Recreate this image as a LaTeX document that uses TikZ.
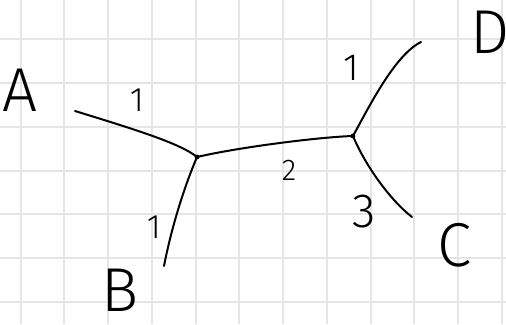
\documentclass[tikz,border=0pt]{standalone}
\usepackage{fontspec}
\newfontfamily\handfont{Fira Sans Light}
\usetikzlibrary{positioning}
\definecolor{gridgray}{RGB}{229,229,229}

\begin{document}
\begin{tikzpicture}[x=1pt, y=-1pt,
        edge/.style={line width=2pt, line cap=round},
        leaf/.style={font=\handfont\fontsize{62}{62}\selectfont, inner sep=0pt},
        weight/.style={font=\handfont\fontsize{34}{34}\selectfont, inner sep=0pt}]
    \useasboundingbox (0,0) rectangle (506,324);
    \clip (0,0) rectangle (506,324);
    \fill[white] (0,0) rectangle (506,324);
    % grid paper
    \foreach \i in {0,...,11}
        \draw[gridgray, line width=2pt] ({20.7+43.75*\i},0) -- ({20.7+43.75*\i},324);
    \foreach \j in {0,...,6}
        \draw[gridgray, line width=2pt] (0,{39.3+43.75*\j}) -- (506,{39.3+43.75*\j});
    % inner vertices and free ends
    \coordinate (u) at (197,157);
    \coordinate (v) at (353,136);
    \coordinate (endA) at (75,111);
    \coordinate (endB) at (164,266);
    \coordinate (endC) at (412,217);
    \coordinate (endD) at (421,42);
    % branches
    \draw[edge] (endA) .. controls (130,128) and (180,143) .. (u);
    \draw[edge] (u) .. controls (185,185) and (172,225) .. (endB);
    \draw[edge] (u) .. controls (240,147) and (320,137) .. (v);
    \draw[edge] (v) .. controls (370,105) and (395,55) .. (endD);
    \draw[edge] (v) .. controls (365,165) and (390,200) .. (endC);
    \fill (u) circle (2.4);
    \fill (v) circle (2.4);
    % leaves
    \node[leaf] (A) at (20,90) {A};
    \node[leaf] (B) at (120,290) {B};
    \node[leaf] (C) at (455,245) {C};
    \node[leaf] (D) at (490,32) {D};
    % branch lengths
    \node[weight] (wA) at (137,100) {1};
    \node[weight] (wB) at (154,227) {1};
    \node[weight, font=\handfont\fontsize{30}{30}\selectfont] (wuv) at (289,170) {2};
    \node[weight, font=\handfont\fontsize{48}{48}\selectfont] (wC) at (364,212) {3};
    \node[weight, font=\handfont\fontsize{38}{38}\selectfont] (wD) at (351,68) {1};
\end{tikzpicture}
\end{document}
